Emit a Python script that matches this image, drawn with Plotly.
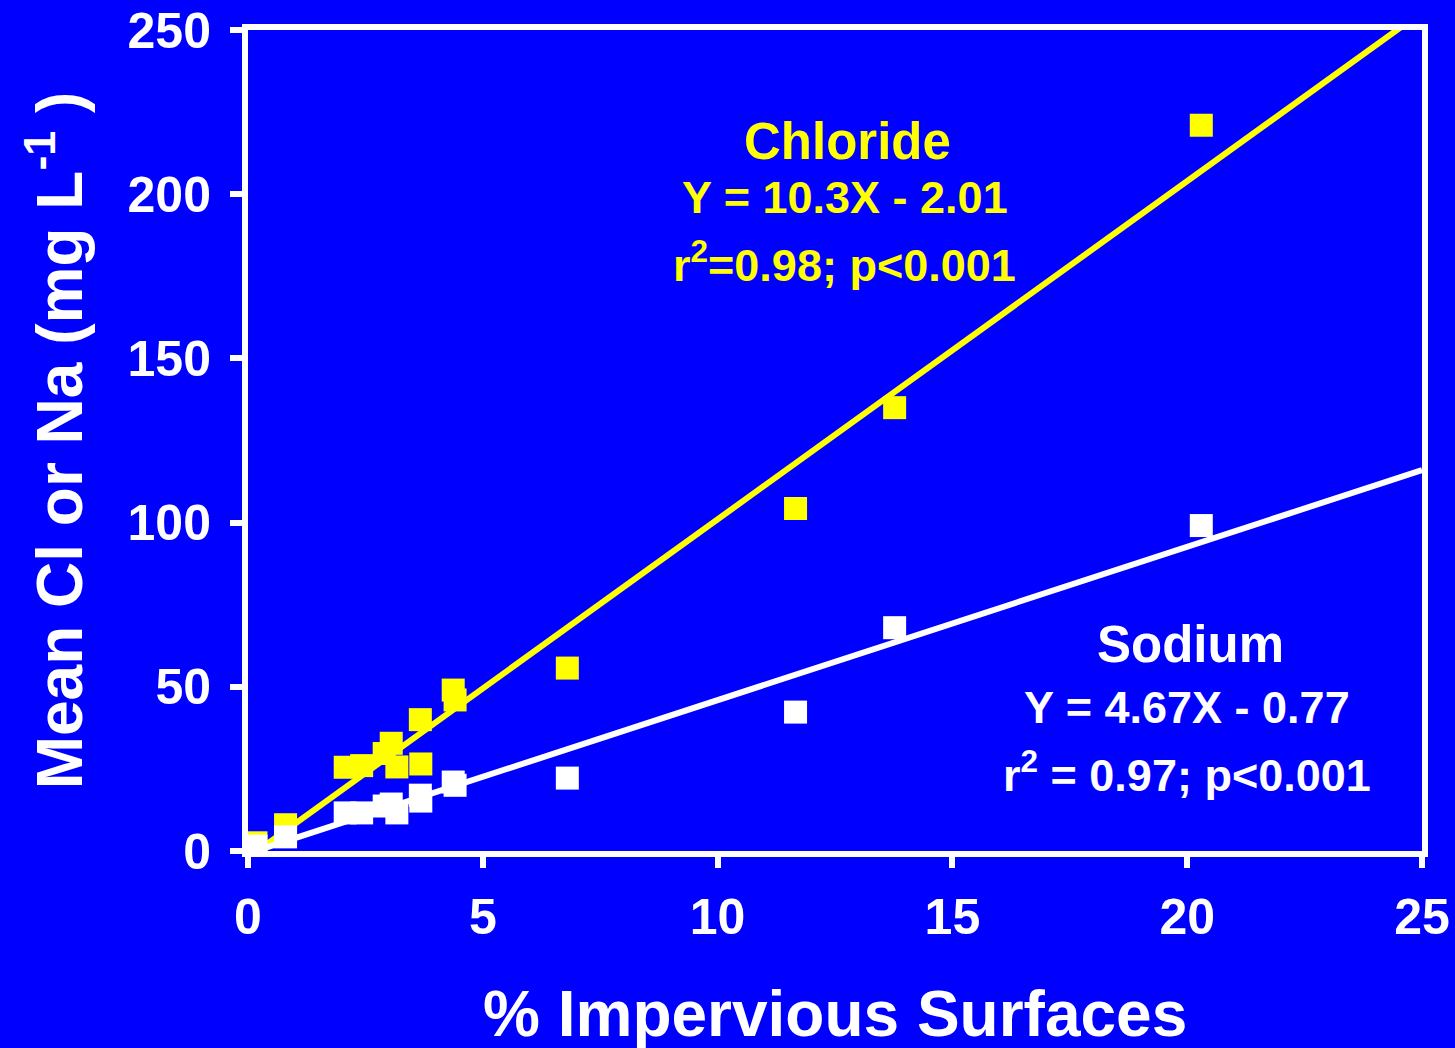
import plotly.graph_objects as go

# Mean concentrations vs. % impervious surface cover
impervious = [0.17, 0.8, 2.07, 2.42, 2.9, 3.05, 3.17, 3.67, 3.68, 4.37, 4.41, 6.8, 11.66, 13.77, 20.3]
chloride = [2.5, 8.0, 25.5, 26.0, 29.7, 32.8, 25.6, 40.0, 26.5, 49.0, 46.0, 55.7, 104.3, 135.0, 221.0]
sodium = [1.5, 4.3, 11.6, 11.6, 13.7, 14.3, 11.6, 17.0, 15.2, 21.0, 20.0, 22.2, 42.3, 68.0, 99.1]

# Fitted regressions (slope, intercept)
cl_slope, cl_intercept = 10.3, -2.01
na_slope, na_intercept = 4.67, -0.77
fit_x = [0.17, 25.0]

BLUE = "#0000FF"
YELLOW = "#FFFF00"
WHITE = "#FFFFFF"
FONT = "Liberation Sans, Arial, sans-serif"

fig = go.Figure()

fig.add_trace(go.Scatter(
    x=fit_x, y=[cl_slope * v + cl_intercept for v in fit_x],
    mode="lines", line=dict(color=YELLOW, width=6), hoverinfo="skip"))
fig.add_trace(go.Scatter(
    x=impervious, y=chloride, mode="markers",
    marker=dict(symbol="square", size=23, color=YELLOW, line=dict(width=0))))
fig.add_trace(go.Scatter(
    x=fit_x, y=[na_slope * v + na_intercept for v in fit_x],
    mode="lines", line=dict(color=WHITE, width=6), hoverinfo="skip"))
fig.add_trace(go.Scatter(
    x=impervious, y=sodium, mode="markers",
    marker=dict(symbol="square", size=23, color=WHITE, line=dict(width=0))))

def label(x, y, text, color, size):
    fig.add_annotation(x=x, y=y, xref="x", yref="y", text=text, showarrow=False,
                       xanchor="center", yanchor="middle",
                       font=dict(family=FONT, size=size, color=color, weight="bold"))

label(12.77, 216, "Chloride", YELLOW, 51)
label(12.72, 199, f"Y = {cl_slope}X - {abs(cl_intercept)}", YELLOW, 45)
label(12.70, 179.5, "r<sup>2</sup>=0.98; p<0.001", YELLOW, 45)
label(20.06, 63, "Sodium", WHITE, 51)
label(20.0, 43.6, f"Y = {na_slope}X - {abs(na_intercept)}", WHITE, 45)
label(20.0, 24.0, "r<sup>2</sup> = 0.97; p<0.001", WHITE, 45)

# x-axis title placed below the tick labels
fig.add_annotation(x=0.5, y=-0.199, xref="paper", yref="paper",
                   text="% Impervious Surfaces", showarrow=False,
                   xanchor="center", yanchor="middle",
                   font=dict(family=FONT, size=64, color=WHITE, weight="bold"))

axis_common = dict(
    showgrid=False, zeroline=False, showline=True, linecolor=WHITE, linewidth=6,
    mirror=True, ticks="outside", tickcolor=WHITE, tickwidth=6, automargin=False,
    tickfont=dict(family=FONT, size=50, color=WHITE, weight="bold"),
)

fig.update_layout(
    width=1455, height=1048,
    paper_bgcolor=BLUE, plot_bgcolor=BLUE,
    showlegend=False,
    margin=dict(l=248, r=33, t=30, b=197),
    xaxis=dict(range=[0, 25], dtick=5, tick0=0, ticklen=11, ticklabelstandoff=6,
               **axis_common),
    yaxis=dict(range=[0, 250], dtick=50, tick0=0, ticklen=12, ticklabelstandoff=9,
               title=dict(text="Mean Cl or Na (mg L<sup>-1</sup> )", standoff=26,
                          font=dict(family=FONT, size=64, color=WHITE, weight="bold")),
               **axis_common),
)

fig.write_html("out.html")
